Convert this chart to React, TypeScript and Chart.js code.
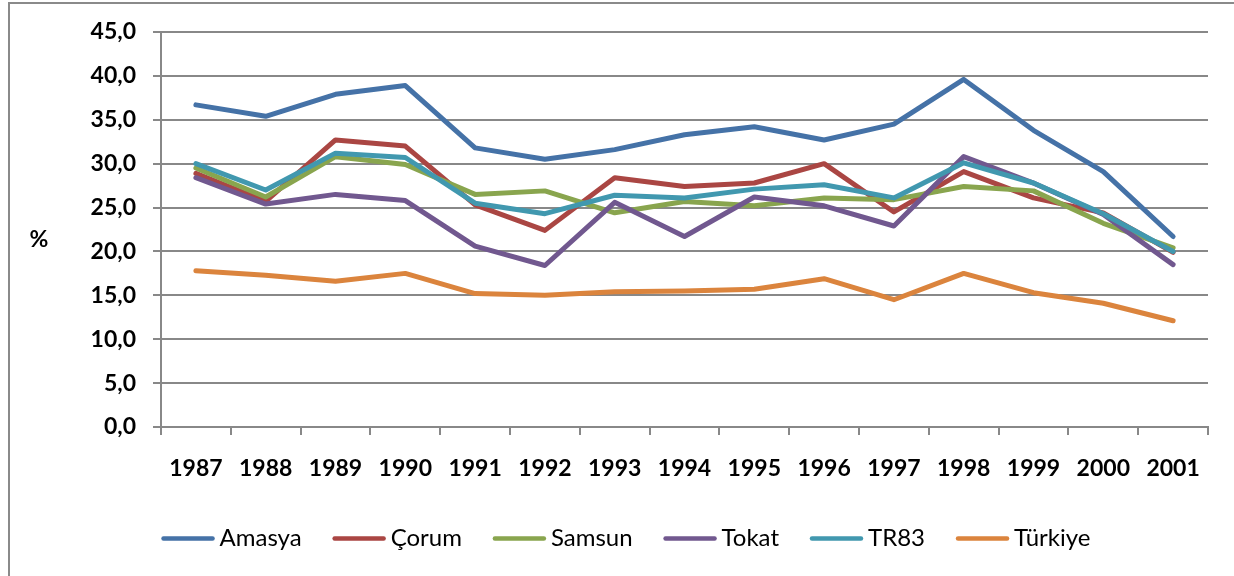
import React, { useEffect, useRef } from "react";
import { Chart, registerables } from "chart.js";

Chart.register(...registerables);

const years = ["1987", "1988", "1989", "1990", "1991", "1992", "1993", "1994", "1995", "1996", "1997", "1998", "1999", "2000", "2001"];
const amasya = [36.7, 35.4, 37.9, 38.9, 31.8, 30.5, 31.6, 33.3, 34.2, 32.7, 34.5, 39.6, 33.8, 29.1, 21.7];
const corum = [28.9, 25.7, 32.7, 32.0, 25.3, 22.4, 28.4, 27.4, 27.8, 30.0, 24.5, 29.1, 26.1, 24.4, 19.9];
const samsun = [29.5, 26.2, 30.8, 29.9, 26.5, 26.9, 24.4, 25.7, 25.2, 26.1, 25.9, 27.4, 26.9, 23.2, 20.4];
const tokat = [28.4, 25.4, 26.5, 25.8, 20.6, 18.4, 25.6, 21.7, 26.2, 25.2, 22.9, 30.8, 27.8, 24.2, 18.5];
const tr83 = [30.0, 27.0, 31.2, 30.7, 25.5, 24.3, 26.4, 26.1, 27.1, 27.6, 26.1, 30.1, 27.8, 24.3, 20.0];
const turkiye = [17.8, 17.3, 16.6, 17.5, 15.2, 15.0, 15.4, 15.5, 15.7, 16.9, 14.5, 17.5, 15.3, 14.1, 12.1];

const seriesNames = ["Amasya", "Çorum", "Samsun", "Tokat", "TR83", "Türkiye"];
const seriesValues = [amasya, corum, samsun, tokat, tr83, turkiye];
const seriesColors = ["#4572A7", "#AA4643", "#89A54E", "#71588F", "#4198AF", "#DB843D"];

const yUnit = "%";
const FONT = "Lato, 'Open Sans', sans-serif";
const GRID = "#888888";

const framePlugin = {
  id: "frameAndLegend",
  beforeDraw(chart: any) {
    const ctx = chart.ctx;
    ctx.save();
    ctx.fillStyle = "#ffffff";
    ctx.fillRect(0, 0, chart.width, chart.height);
    ctx.strokeStyle = "#8a8a8a";
    ctx.lineWidth = 2;
    ctx.strokeRect(9, 3, 2000, 2000);
    ctx.restore();
  },
  afterDraw(chart: any) {
    const ctx = chart.ctx;
    ctx.save();
    // unit label
    ctx.font = `bold 23px ${FONT}`;
    ctx.fillStyle = "#000";
    ctx.textAlign = "center";
    ctx.textBaseline = "middle";
    ctx.fillText(yUnit, 39, 240);
    // legend
    ctx.font = `24px ${FONT}`;
    const lineW = 53;
    const gapText = 5;
    const gapItem = 31;
    const widths = chart.data.datasets.map((d: any) => ctx.measureText(d.label).width);
    const total = widths.reduce((a: number, w: number) => a + lineW + gapText + w, 0) + gapItem * (widths.length - 1);
    let x = 626 - total / 2;
    const y = 538.5;
    chart.data.datasets.forEach((d: any, i: number) => {
      ctx.strokeStyle = d.borderColor;
      ctx.lineWidth = 4.5;
      ctx.lineCap = "round";
      ctx.beginPath();
      ctx.moveTo(x + 2, y);
      ctx.lineTo(x + lineW - 2, y);
      ctx.stroke();
      ctx.fillStyle = "#000";
      ctx.textAlign = "left";
      ctx.textBaseline = "alphabetic";
      ctx.fillText(d.label, x + lineW + gapText, 546);
      x += lineW + gapText + widths[i] + gapItem;
    });
    ctx.restore();
  },
};

export default function App() {
  const ref = useRef<HTMLCanvasElement | null>(null);
  useEffect(() => {
    if (!ref.current) return;
    const chart = new Chart(ref.current, {
      type: "line",
      data: {
        labels: years,
        datasets: seriesNames.map((name, i) => ({
          label: name,
          data: seriesValues[i],
          borderColor: seriesColors[i],
          backgroundColor: seriesColors[i],
          borderWidth: 5,
          pointRadius: 0,
          pointHoverRadius: 0,
          tension: 0,
          fill: false,
          borderJoinStyle: "round" as const,
          borderCapStyle: "round" as const,
          order: seriesNames.length - i,
        })),
      },
      options: {
        responsive: false,
        animation: false,
        devicePixelRatio: 1,
        layout: { padding: { left: 0, right: 26, top: 32, bottom: 0 } },
        plugins: {
          legend: { display: false },
          tooltip: { enabled: false },
          title: { display: false },
        },
        scales: {
          x: {
            type: "category",
            offset: true,
            grid: {
              offset: true,
              drawOnChartArea: false,
              drawTicks: true,
              tickLength: 8,
              color: GRID,
              lineWidth: 2,
            },
            border: { color: GRID, width: 2 },
            ticks: {
              color: "#000",
              font: { family: FONT, size: 23, weight: "bold" },
              padding: 20,
              maxRotation: 0,
              autoSkip: false,
            },
            afterFit: (scale: any) => {
              scale.height = 149;
            },
          },
          y: {
            min: 0,
            max: 45,
            grid: {
              color: GRID,
              lineWidth: 2,
              drawTicks: true,
              tickLength: 8,
            },
            border: { color: GRID, width: 2 },
            ticks: {
              stepSize: 5,
              color: "#000",
              font: { family: FONT, size: 23, weight: "bold" },
              padding: 17,
              callback: (v: any) => Number(v).toFixed(1).replace(".", ","),
            },
            afterFit: (scale: any) => {
              scale.width = 161;
            },
          },
        },
      },
      plugins: [framePlugin],
    });
    return () => chart.destroy();
  }, []);
  return (
    <div style={{ position: "absolute", left: 0, top: 0, width: 1234, height: 576 }}>
      <canvas ref={ref} width={1234} height={576} style={{ display: "block" }} />
    </div>
  );
}
